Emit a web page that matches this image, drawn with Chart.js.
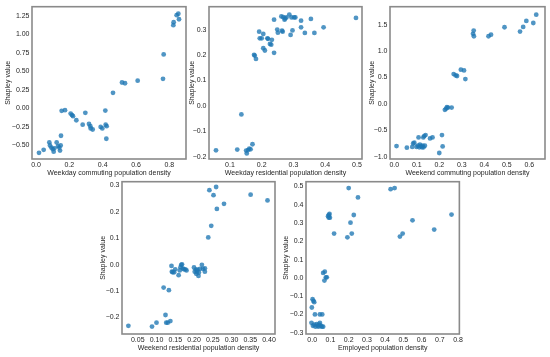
<!DOCTYPE html>
<html><head><meta charset="utf-8">
<script src="https://cdn.jsdelivr.net/npm/chart.js@4/dist/chart.umd.min.js"></script>
<style>
html,body{margin:0;padding:0;background:#fff;width:550px;height:357px;overflow:hidden;}
canvas{position:absolute;}
</style></head><body>
<canvas id="c1" width="190" height="180" style="left:0px;top:0px"></canvas>
<canvas id="c2" width="186" height="180" style="left:180px;top:0px"></canvas>
<canvas id="c3" width="184" height="180" style="left:366px;top:0px"></canvas>
<canvas id="c4" width="190" height="180" style="left:90px;top:175px"></canvas>
<canvas id="c5" width="185" height="180" style="left:280px;top:175px"></canvas>
<script>
// ---- data ----
const yAxisTitle = "Shapley value";
const xTitles = ["Weekday commuting population density","Weekday residential population density","Weekend commuting population density","Weekend residential population density","Employed population density"];

const p1X = [0.018,0.046,0.08,0.084,0.092,0.10,0.106,0.11,0.124,0.132,0.14,0.144,0.148,0.15,0.154,0.174,0.208,0.216,0.222,0.242,0.28,0.296,0.318,0.326,0.328,0.34,0.388,0.398,0.416,0.418,0.424,0.422,0.462,0.516,0.534,0.61,0.762,0.766,0.824,0.826,0.844,0.854,0.858];
const p1Y = [-0.60,-0.56,-0.46,-0.50,-0.53,-0.55,-0.585,-0.54,-0.46,-0.51,-0.53,-0.57,-0.50,-0.37,-0.033,-0.024,-0.07,-0.09,-0.105,-0.16,-0.22,-0.06,-0.21,-0.24,-0.27,-0.285,-0.25,-0.27,-0.03,-0.22,-0.24,-0.41,0.21,0.35,0.34,0.375,0.40,0.73,1.125,1.165,1.26,1.28,1.205];
const p1XTicks = [0.0,0.2,0.4,0.6,0.8];
const p1XLabels = ["0.0","0.2","0.4","0.6","0.8"];
const p1YTicks = [-0.5,-0.25,0,0.25,0.5,0.75,1.0,1.25];
const p1YLabels = ["\u22120.50","\u22120.25","0.00","0.25","0.50","0.75","1.00","1.25"];

const p2X = [0.056,0.123,0.136,0.151,0.153,0.157,0.161,0.165,0.171,0.176,0.178,0.182,0.192,0.194,0.20,0.205,0.205,0.21,0.218,0.22,0.226,0.23,0.232,0.239,0.239,0.249,0.251,0.262,0.264,0.266,0.268,0.272,0.274,0.278,0.287,0.291,0.294,0.297,0.302,0.306,0.324,0.324,0.336,0.355,0.366,0.395,0.497];
const p2Y = [-0.174,-0.171,-0.033,-0.175,-0.186,-0.173,-0.167,-0.170,-0.15,0.201,0.198,0.185,0.292,0.266,0.266,0.283,0.227,0.218,0.266,0.264,0.244,0.241,0.26,0.339,0.209,0.30,0.288,0.352,0.296,0.292,0.349,0.339,0.344,0.348,0.359,0.279,0.348,0.297,0.348,0.348,0.335,0.309,0.287,0.342,0.287,0.309,0.346];
const p2XTicks = [0.1,0.2,0.3,0.4,0.5];
const p2XLabels = ["0.1","0.2","0.3","0.4","0.5"];
const p2YTicks = [-0.2,-0.1,0,0.1,0.2,0.3];
const p2YLabels = ["\u22120.2","\u22120.1","0.0","0.1","0.2","0.3"];

const p3X = [0.010,0.056,0.080,0.084,0.089,0.099,0.105,0.108,0.111,0.114,0.119,0.123,0.126,0.129,0.130,0.133,0.136,0.139,0.159,0.170,0.200,0.212,0.215,0.225,0.231,0.234,0.239,0.255,0.264,0.273,0.279,0.296,0.310,0.316,0.350,0.353,0.354,0.419,0.430,0.490,0.559,0.573,0.587,0.618,0.631];
const p3Y = [-0.793,-0.825,-0.81,-0.743,-0.73,-0.81,-0.787,-0.63,-0.818,-0.768,-0.793,-0.818,-0.787,-0.63,-0.818,-0.605,-0.787,-0.586,-0.649,-0.63,-0.925,-0.586,-0.80,-0.11,-0.085,-0.06,-0.066,-0.066,0.566,0.541,0.529,0.648,0.635,0.472,1.325,1.387,1.28,1.28,1.31,1.45,1.368,1.456,1.57,1.53,1.688];
const p3XTicks = [0.0,0.1,0.2,0.3,0.4,0.5,0.6];
const p3XLabels = ["0.0","0.1","0.2","0.3","0.4","0.5","0.6"];
const p3YTicks = [-1.0,-0.5,0,0.5,1.0,1.5];
const p3YLabels = ["\u22121.0","\u22120.5","0.0","0.5","1.0","1.5"];

const p4X = [0.025,0.088,0.100,0.119,0.124,0.126,0.130,0.133,0.137,0.140,0.141,0.143,0.147,0.150,0.159,0.162,0.164,0.166,0.168,0.170,0.173,0.177,0.180,0.200,0.202,0.205,0.206,0.208,0.209,0.212,0.213,0.216,0.221,0.224,0.229,0.229,0.238,0.241,0.246,0.252,0.259,0.261,0.280,0.351,0.396];
const p4Y = [-0.232,-0.235,-0.22,-0.087,-0.191,-0.22,-0.22,-0.097,-0.214,-0.005,-0.027,-0.029,-0.029,-0.018,-0.04,-0.022,-0.01,-0.001,0.001,-0.014,-0.018,-0.018,-0.022,-0.011,-0.027,-0.019,-0.035,-0.027,-0.019,-0.043,-0.03,-0.016,-0.001,-0.016,-0.014,-0.027,0.103,0.282,0.147,0.263,0.294,0.211,0.23,0.265,0.243];
const p4XTicks = [0.05,0.10,0.15,0.20,0.25,0.30,0.35,0.40];
const p4XLabels = ["0.05","0.10","0.15","0.20","0.25","0.30","0.35","0.40"];
const p4YTicks = [-0.2,-0.1,0,0.1,0.2,0.3];
const p4YLabels = ["\u22120.2","\u22120.1","0.0","0.1","0.2","0.3"];

const p5X = [-0.002,0.002,0.007,0.011,0.015,-0.004,0.004,0.011,0.018,0.024,0.029,0.035,0.038,0.042,0.047,0.042,0.055,0.053,0.060,0.067,0.060,0.069,0.075,0.080,0.091,0.087,0.091,0.097,0.095,0.120,0.193,0.200,0.210,0.217,0.228,0.251,0.430,0.452,0.481,0.496,0.550,0.669,0.764];
const p5Y = [-0.162,-0.117,-0.126,-0.133,-0.20,-0.246,-0.262,-0.256,-0.267,-0.253,-0.262,-0.267,-0.256,-0.246,-0.262,-0.20,-0.20,-0.267,-0.267,-0.015,0.027,0.034,0.003,0.003,0.344,0.337,0.329,0.329,0.35,0.242,0.222,0.491,0.302,0.242,0.344,0.44,0.485,0.491,0.226,0.242,0.315,0.264,0.346];
const p5XTicks = [0.0,0.1,0.2,0.3,0.4,0.5,0.6,0.7,0.8];
const p5XLabels = ["0.0","0.1","0.2","0.3","0.4","0.5","0.6","0.7","0.8"];
const p5YTicks = [-0.3,-0.2,-0.1,0,0.1,0.2,0.3,0.4,0.5];
const p5YLabels = ["\u22120.3","\u22120.2","\u22120.1","0.0","0.1","0.2","0.3","0.4","0.5"];

// ---- drawing ----
const FONT = "'Liberation Sans', Arial, sans-serif";
const TXT = '#262626';
const boxPlugin = {
  id: 'box',
  afterDatasetsDraw(chart) {
    const a = chart.chartArea, ctx = chart.ctx;
    ctx.save();
    ctx.strokeStyle = '#8a8a8a';
    ctx.lineWidth = 1.6;
    ctx.strokeRect(a.left, a.top, a.right - a.left, a.bottom - a.top);
    ctx.restore();
  }
};

function makeChart(id, xs, ys, xT, xL, yT, yL, xTitle, lay) {
  const pts = xs.map((x, i) => ({x: x, y: ys[i]}));
  new Chart(document.getElementById(id), {
    type: 'scatter',
    data: { datasets: [{ data: pts, backgroundColor: 'rgba(31,119,180,0.78)', borderWidth: 0, pointRadius: 2.4, pointHoverRadius: 2.4 }] },
    options: {
      responsive: false, animation: false, devicePixelRatio: 1,
      layout: { padding: { left: 0, top: lay.pt, right: lay.pr, bottom: 0 } },
      plugins: { legend: { display: false }, tooltip: { enabled: false } },
      scales: {
        x: {
          type: 'linear', min: lay.xmin, max: lay.xmax,
          grid: { display: false, drawTicks: false },
          border: { display: false },
          afterBuildTicks: s => { s.ticks = xT.map(v => ({value: v})); },
          afterFit: s => { s.height = lay.xh; },
          ticks: { padding: 2, color: TXT, font: { family: FONT, size: 7 }, maxRotation: 0, autoSkip: false,
                   callback: (v, i) => xL[i] },
          title: { display: true, text: xTitle, color: TXT, font: { family: FONT, size: 7 }, padding: { top: 0, bottom: 3 } }
        },
        y: {
          type: 'linear', min: lay.ymin, max: lay.ymax,
          grid: { display: false, drawTicks: false },
          border: { display: false },
          afterBuildTicks: s => { s.ticks = yT.map(v => ({value: v})); },
          afterFit: s => { s.width = lay.yw; },
          ticks: { padding: 2.5, color: TXT, font: { family: FONT, size: 7 }, autoSkip: false,
                   callback: (v, i) => yL[i] },
          title: { display: true, text: yAxisTitle, color: TXT, font: { family: FONT, size: 7 }, padding: { top: lay.tp, bottom: 0 } }
        }
      }
    },
    plugins: [boxPlugin]
  });
}

makeChart('c1', p1X, p1Y, p1XTicks, p1XLabels, p1YTicks, p1YLabels, xTitles[0],
  {pt: 6, pr: 4, xh: 21, yw: 32, tp: 4, xmin: -0.024, xmax: 0.90, ymin: -0.684, ymax: 1.375});
makeChart('c2', p2X, p2Y, p2XTicks, p2XLabels, p2YTicks, p2YLabels, xTitles[1],
  {pt: 6, pr: 4, xh: 21, yw: 29, tp: 7.5, xmin: 0.034, xmax: 0.516, ymin: -0.208, ymax: 0.39});
makeChart('c3', p3X, p3Y, p3XTicks, p3XLabels, p3YTicks, p3YLabels, xTitles[2],
  {pt: 6, pr: 5, xh: 21, yw: 24, tp: 1.5, xmin: -0.019, xmax: 0.67, ymin: -1.038, ymax: 1.838});
makeChart('c4', p4X, p4Y, p4XTicks, p4XLabels, p4YTicks, p4YLabels, xTitles[3],
  {pt: 6, pr: 5, xh: 21, yw: 32, tp: 9, xmin: 0.008, xmax: 0.416, ymin: -0.263, ymax: 0.314});
makeChart('c5', p5X, p5Y, p5XTicks, p5XLabels, p5YTicks, p5YLabels, xTitles[4],
  {pt: 6, pr: 5, xh: 21, yw: 26, tp: 1.5, xmin: -0.034, xmax: 0.807, ymin: -0.307, ymax: 0.526});
</script>
</body></html>
